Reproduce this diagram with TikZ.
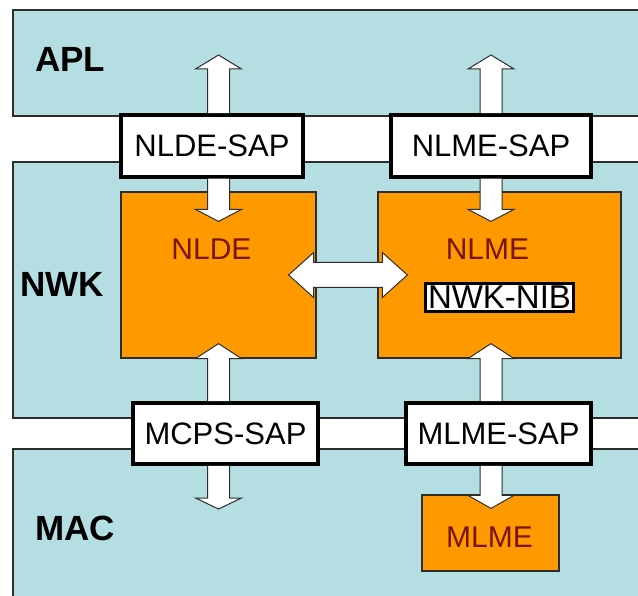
\documentclass[tikz,border=0pt]{standalone}
\usepackage{fontspec}
\setmainfont{Liberation Sans}
\usepackage{tikz}
\usetikzlibrary{positioning}
\usetikzlibrary{calc}
\definecolor{layerblue}{RGB}{180,222,226}
\definecolor{blockorange}{RGB}{255,153,0}
\definecolor{blocktext}{RGB}{120,20,0}
\definecolor{edgegray}{RGB}{45,45,45}
\newcommand\fatarrow[3]{%
  \filldraw[arr] ($(#1)+(-11,0)$) -- ($(#2)+(-11,#3)$) -- ($(#2)+(-23,#3)$) -- (#2)
    -- ($(#2)+(23,#3)$) -- ($(#2)+(11,#3)$) -- ($(#1)+(11,0)$);}
\begin{document}
\begin{tikzpicture}[x=1pt,y=-1pt,every node/.style={font=\fontsize{31}{31}\selectfont},
  layer/.style={draw=edgegray,line width=1.5pt,fill=layerblue},
  layername/.style={font=\fontsize{35}{35}\selectfont\bfseries},
  blk/.style={draw=edgegray,line width=1.2pt,fill=blockorange},
  blkname/.style={text=blocktext,inner sep=0pt,font=\fontsize{30}{30}\selectfont},
  sap/.style={draw=black,line width=3.5pt,fill=white,inner sep=0pt},
  arr/.style={draw=edgegray,line width=1pt,fill=white,line join=miter}]
  \path[use as bounding box,clip] (0,0) rectangle (638,596);
  \draw[layer] (13,10) rectangle (660,116);
  \draw[layer] (13,162) rectangle (660,418);
  \draw[layer] (13,449) rectangle (660,620);
  \node[layername] (apl) at (70,59.5) {APL};
  \node[layername] (nwk) at (62,284.5) {NWK};
  \node[layername] (mac) at (75,528) {MAC};

  \node[blk,minimum width=195pt,minimum height=166pt] (nlde) at (218.5,275) {};
  \node[blk,minimum width=243pt,minimum height=166pt] (nlme) at (499.5,275) {};
  \node[blk,minimum width=137pt,minimum height=76pt] (mlme) at (490.5,533) {};
  \node[blkname] (nldetxt) at ($(nlde.north)+(-7,58)$) {NLDE};
  \node[blkname] (nlmetxt) at ($(nlme.north)+(-12,58)$) {NLME};
  \node[blkname] (mlmetxt) at ($(mlme.center)+(-1,4)$) {MLME};
  \node[sap,line width=3pt,inner xsep=3pt,inner ysep=2.5pt,font=\fontsize{33}{33}\selectfont] (nib) at ($(nlme.center)+(0,22.5)$) {NWK-NIB};

  \node[sap,minimum width=182pt,minimum height=62pt] (nldesap) at (212,146) {NLDE-SAP};
  \node[sap,minimum width=200pt,minimum height=62pt] (nlmesap) at (491,146) {NLME-SAP};
  \node[sap,minimum width=185pt,minimum height=61pt] (mcpssap) at (225.5,433.5) {MCPS-SAP};
  \node[sap,minimum width=185pt,minimum height=61pt] (mlmesap) at (498.5,433.5) {MLME-SAP};

  \coordinate (t1) at (nlde.center |- 0,55);
  \coordinate (t2) at ($(nlde.north)+(0,30)$);
  \coordinate (t3) at ($(nlde.south)+(0,-15)$);
  \coordinate (t4) at (nlde.center |- 0,509);
  \coordinate (t5) at (nlmesap.center |- 0,55);
  \coordinate (t6) at ($(nlmesap.center |- nlme.north)+(0,30)$);
  \coordinate (t7) at ($(nlmesap.center |- nlme.south)+(0,-15)$);
  \coordinate (t8) at ($(nlmesap.center |- mlme.north)+(0,14)$);
  \fatarrow{t1 |- nldesap.north}{t1}{14}
  \fatarrow{t2 |- nldesap.south}{t2}{-12}
  \fatarrow{t3 |- mcpssap.north}{t3}{15}
  \fatarrow{t4 |- mcpssap.south}{t4}{-11}
  \fatarrow{t5 |- nlmesap.north}{t5}{14}
  \fatarrow{t6 |- nlmesap.south}{t6}{-12}
  \fatarrow{t7 |- mlmesap.north}{t7}{15}
  \fatarrow{t8 |- mlmesap.south}{t8}{-13}

  \coordinate (hl) at ($(nlde.east)+(-28,0)$);
  \coordinate (hr) at ($(nlme.west)+(30,0)$);
  \filldraw[arr] (hl) -- ($(hl)+(25,-22.5)$) -- ($(hl)+(25,-12.5)$) -- ($(hr)+(-25,-12.5)$)
    -- ($(hr)+(-25,-22.5)$) -- (hr) -- ($(hr)+(-25,22.5)$) -- ($(hr)+(-25,12.5)$)
    -- ($(hl)+(25,12.5)$) -- ($(hl)+(25,22.5)$) -- cycle;
\end{tikzpicture}
\end{document}
